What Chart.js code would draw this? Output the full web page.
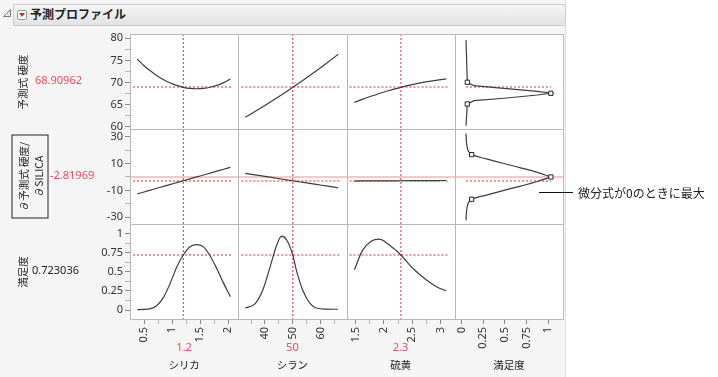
<!DOCTYPE html>
<html lang="ja">
<head>
<meta charset="utf-8">
<title>予測プロファイル</title>
<script src="https://cdn.jsdelivr.net/npm/chart.js@4.4.1/dist/chart.umd.min.js"></script>
<style>
  html, body { margin: 0; padding: 0; background: #fff; }
  body { font-family: 'Noto Sans', 'Noto Sans CJK JP', sans-serif; color: #222; }
  #wrap { position: relative; width: 718px; height: 377px; overflow: hidden; }
  #panel { position: absolute; left: 0; top: 0; width: 565px; height: 377px; background: #f5f5f5; border-right: 1px solid #e0e0e0; }
  #bar { position: absolute; left: 13px; top: 4px; width: 551px; height: 20px; border: 1px solid #cccccc; background: linear-gradient(#f5f5f5, #e3e3e3); }
  #bar .title { position: absolute; left: 16px; top: 0; line-height: 20px; font: bold 12px 'Noto Sans CJK JP', sans-serif; }
  #bar .menu { position: absolute; left: 3px; top: 5px; width: 8px; height: 8px; border: 1px solid #9a9a9a; border-radius: 2px; background: #fff; }
  #bar .menu::after { content: ''; position: absolute; left: 1px; top: 2px; border-left: 3px solid transparent; border-right: 3px solid transparent; border-top: 4px solid #d8232a; }
  #disclose { position: absolute; left: 2px; top: 8px; }
  canvas { position: absolute; left: 0; top: 0; }
  .vlab { position: absolute; transform: translate(-50%, -50%) rotate(-90deg); white-space: nowrap; font: 10.5px 'Noto Sans CJK JP', sans-serif; }
  .val { position: absolute; font: 11px 'Noto Sans', sans-serif; line-height: 14px; }
  .red { color: #ea4c60; }
  #dbox { position: absolute; left: -12px; top: 158px; width: 84px; height: 37px; box-sizing: border-box; border: 1px solid #222;
          transform: rotate(-90deg); display: flex; flex-direction: column; justify-content: center; align-items: center;
          font: 10.5px 'Noto Sans CJK JP', sans-serif; line-height: 15px; }
  #note-line { position: absolute; left: 539px; top: 192px; width: 34px; height: 1px; background: #111; }
  #note { position: absolute; left: 578px; top: 184px; font: 12px 'Noto Sans CJK JP', sans-serif; line-height: 17px; white-space: nowrap; }
</style>
</head>
<body>
<div id="wrap">
  <div id="panel"></div>
  <svg id="disclose" width="10" height="10"><polygon points="8.5,1.5 8.5,8.5 1.5,8.5" fill="#e6e6e6" stroke="#7a7a7a" stroke-width="1"/></svg>
  <div id="bar"><div class="menu"></div><div class="title">予測プロファイル</div></div>
  <canvas id="profiler" width="718" height="377"></canvas>

  <div class="vlab" style="left:22px;top:82px">予測式 硬度</div>
  <div class="val red" style="left:35px;top:73px">68.90962</div>
  <div id="dbox"><div>∂予測式 硬度/</div><div>∂SILICA</div></div>
  <div class="val red" style="left:50px;top:168px">-2.81969</div>
  <div class="vlab" style="left:22px;top:272px">満足度</div>
  <div class="val" style="left:32px;top:263px">0.723036</div>

  <div id="note-line"></div>
  <div id="note">微分式が0のときに最大</div>
</div>

<script>
// current settings of the factors and the predicted responses
const factorNames = ['シリカ', 'シラン', '硫黄', '満足度'];
const factorNow = [1.2, 50, 2.3];
const factorNowText = ['1.2', '50', '2.3'];
const responseNow = [68.90962, -2.81969, 0.723036];

// シリカ column
const silica = [0.38, 0.5, 0.6, 0.73, 0.85, 0.96, 1.08, 1.2, 1.32, 1.44, 1.56, 1.68, 1.8, 1.92, 2.04];
const hardBySilica = [75.3, 73.8, 72.75, 71.55, 70.63, 69.93, 69.34, 68.91, 68.66, 68.58, 68.67, 68.93, 69.36, 69.97, 70.8];
const derivBySilica = [-12.6, -11.15, -9.96, -8.41, -6.99, -5.68, -4.25, -2.82, -1.39, 0.04, 1.46, 2.89, 4.32, 5.75, 7.18];
const desirBySilica = [0.005, 0.008, 0.014, 0.06, 0.17, 0.34, 0.56, 0.723, 0.83, 0.86, 0.83, 0.71, 0.54, 0.35, 0.175];

// シラン column
const silane = [32.9, 36.4, 39.4, 41.8, 44.2, 46.0, 47.8, 50, 51.3, 53.7, 56.1, 58.5, 62, 66.3];
const hardBySilane = [62.12, 63.42, 64.57, 65.52, 66.49, 67.23, 67.98, 68.91, 69.47, 70.51, 71.59, 72.68, 74.31, 76.37];
const derivBySilane = [2.69, 1.56, 0.6, -0.18, -0.95, -1.53, -2.11, -2.82, -3.24, -4.01, -4.78, -5.56, -6.68, -8.07];
const desirBySilane = [0.026, 0.08, 0.28, 0.56, 0.85, 0.97, 0.92, 0.723, 0.52, 0.25, 0.09, 0.026, 0.012, 0.01];

// 硫黄 column
const sulfur = [1.48, 1.62, 1.77, 1.92, 2.06, 2.21, 2.3, 2.5, 2.74, 2.92, 3.1];
const hardBySulfur = [65.5, 66.19, 66.88, 67.52, 68.07, 68.61, 68.91, 69.52, 70.13, 70.5, 70.8];
const derivBySulfur = [-3.02, -2.98, -2.95, -2.91, -2.88, -2.84, -2.82, -2.77, -2.71, -2.67, -2.62];
const desirBySulfur = [0.53, 0.78, 0.9, 0.93, 0.875, 0.785, 0.723, 0.555, 0.4, 0.31, 0.25];

// desirability functions (x = desirability, y = response)
const hardDesir = [0.05, 0.065, 0.142, 0.488, 0.873, 1.03, 0.873, 0.488, 0.142, 0.065, 0.05];
const hardLevels = [79.6, 70.05, 69.27, 68.69, 68.01, 67.56, 67.17, 66.43, 65.88, 65.14, 60.2];
const derivDesir = [0.05, 0.053, 0.058, 0.075, 0.115, 0.296, 0.488, 0.681, 0.873, 1.03, 0.873, 0.681, 0.488, 0.296, 0.115, 0.075, 0.058, 0.053, 0.05];
const derivLevels = [32.3, 28, 24.6, 19.5, 16.6, 13.3, 10.0, 6.8, 3.4, 0, -3.4, -6.8, -10.0, -13.3, -16.6, -19.5, -24.6, -28, -32.3];
const hardHandleDesir = [0.065, 1.03, 0.065];
const hardHandleLevels = [70.05, 67.56, 65.14];
const derivHandleDesir = [0.115, 1.03, 0.115];
const derivHandleLevels = [16.6, 0, -16.6];

// ticks and labels
const silicaTicks = [0.5, 0.75, 1, 1.25, 1.5, 1.75, 2];
const silicaLabels = [0.5, 1, 1.5, 2];
const silaneTicks = [35, 40, 45, 50, 55, 60, 65];
const silaneLabels = [40, 50, 60];
const sulfurTicks = [1.5, 1.75, 2, 2.25, 2.5, 2.75, 3];
const sulfurLabels = [1.5, 2, 2.5, 3];
const desirTicks = [0, 0.25, 0.5, 0.75, 1];
const desirLabels = [0, 0.25, 0.5, 0.75, 1];
const hardTicks = [60, 62.5, 65, 67.5, 70, 72.5, 75, 77.5, 80];
const hardLabels = [60, 65, 70, 75, 80];
const derivTicks = [-30, -20, -10, 0, 10, 20, 30];
const derivLabels = [-30, -10, 10, 30];
const satTicks = [0, 0.125, 0.25, 0.375, 0.5, 0.625, 0.75, 0.875, 1];
const satLabels = [0, 0.25, 0.5, 0.75, 1];

const NUM_FONT = "'Noto Sans', 'Noto Sans CJK JP', sans-serif";
const JP_FONT = "'Noto Sans CJK JP', 'Noto Sans', sans-serif";
const RED_LINE = '#e8283c';
const PINK_LINE = '#f38d98';
const RED_TEXT = '#ea4c60';
const xIds = ['xSilica', 'xSilane', 'xSulfur', 'xDesir'];
const yIds = ['yHard', 'yDeriv', 'yDesir'];

function pts(xs, ys) {
    return xs.map((x, i) => ({x: x, y: ys[i]}));
}

function axis(pos, ticks, labels, min, max, weight) {
    const horizontal = pos === 'bottom';
    return {
        type: 'linear',
        position: pos,
        stack: horizontal ? 'cols' : 'rows',
        stackWeight: 1,
        weight: weight || 0,
        min: min,
        max: max,
        afterBuildTicks: s => { s.ticks = ticks.map(v => ({value: v})); },
        afterFit: s => { if (horizontal) s.height = 30; else s.width = 30; },
        border: {display: false},
        grid: {
            drawOnChartArea: false,
            tickLength: 5,
            tickColor: c => (c.tick && labels.includes(c.tick.value)) ? '#8a8a8a' : '#b4b4b4'
        },
        ticks: {
            autoSkip: false,
            padding: horizontal ? 3 : 2,
            color: '#333',
            font: {family: NUM_FONT, size: 11},
            minRotation: horizontal ? 90 : 0,
            maxRotation: horizontal ? 90 : 0,
            callback: v => labels.includes(v) ? String(v) : ''
        }
    };
}

function segment(ctx, x1, y1, x2, y2) {
    ctx.beginPath();
    ctx.moveTo(x1, y1);
    ctx.lineTo(x2, y2);
    ctx.stroke();
}

// red crosshairs, cell frames and the factor captions
const profilerPlugin = {
    id: 'profiler',
    beforeDraw(chart) {
        const c = chart.ctx, area = chart.chartArea;
        c.save();
        c.fillStyle = '#ffffff';
        c.fillRect(area.left, area.top, area.width, area.height);
        c.restore();
    },
    beforeDatasetsDraw(chart) {
        const c = chart.ctx;
        const xs = xIds.map(id => chart.scales[id]);
        const ys = yIds.map(id => chart.scales[id]);

        c.save();
        c.lineWidth = 1;
        c.strokeStyle = PINK_LINE;
        const zero = Math.round(ys[1].getPixelForValue(0));
        segment(c, xs[0].left, zero, xs[3].right, zero);

        c.strokeStyle = RED_LINE;
        c.setLineDash([2, 2]);
        factorNow.forEach((v, i) => {
            const px = xs[i].getPixelForValue(v);
            segment(c, px, ys[0].top, px, ys[2].bottom);
        });
        const desirSpan = [[Math.min(...hardDesir), Math.max(...hardDesir)], [Math.min(...derivDesir), Math.max(...derivDesir)]];
        responseNow.forEach((v, r) => {
            const py = Math.round(ys[r].getPixelForValue(v));
            for (let k = 0; k < 3; k++) segment(c, xs[k].left + 3, py, xs[k].right - 6, py);
            if (r < 2) segment(c, xs[3].getPixelForValue(desirSpan[r][0]), py, xs[3].getPixelForValue(desirSpan[r][1]), py);
        });
        c.restore();
    },
    afterDatasetsDraw(chart) {
        const c = chart.ctx;
        const xs = xIds.map(id => chart.scales[id]);
        const ys = yIds.map(id => chart.scales[id]);
        c.save();
        c.strokeStyle = '#b9b9b9';
        c.lineWidth = 1;
        xs.forEach(x => ys.forEach(y => {
            c.strokeRect(Math.round(x.left) + 0.5, Math.round(y.top) + 0.5,
                Math.round(x.right) - Math.round(x.left), Math.round(y.bottom) - Math.round(y.top));
        }));
        c.textAlign = 'center';
        c.textBaseline = 'middle';
        xs.forEach((x, i) => {
            const cx = (x.left + x.right) / 2;
            if (i < 3) {
                c.fillStyle = RED_TEXT;
                c.font = '11px ' + NUM_FONT;
                c.fillText(factorNowText[i], cx, x.top + 29);
            }
            c.fillStyle = '#222222';
            c.font = '10.5px ' + JP_FONT;
            c.fillText(factorNames[i], cx, x.top + 46);
        });
        c.restore();
    }
};

const curve = {showLine: true, borderColor: '#3d3d3d', borderWidth: 1.2, pointRadius: 0, cubicInterpolationMode: 'monotone'};
const handle = {showLine: false, pointStyle: 'rect', pointRadius: 3, backgroundColor: '#ffffff', borderColor: '#222222', borderWidth: 1};
const peak = derivDesir.indexOf(Math.max(...derivDesir));

new Chart(document.getElementById('profiler'), {
    type: 'scatter',
    data: {
        datasets: [
            {...handle, xAxisID: 'xDesir', yAxisID: 'yHard', data: pts(hardHandleDesir, hardHandleLevels)},
            {...handle, xAxisID: 'xDesir', yAxisID: 'yDeriv', data: pts(derivHandleDesir, derivHandleLevels)},
            {...curve, xAxisID: 'xSilica', yAxisID: 'yHard', data: pts(silica, hardBySilica)},
            {...curve, xAxisID: 'xSilica', yAxisID: 'yDeriv', data: pts(silica, derivBySilica)},
            {...curve, xAxisID: 'xSilica', yAxisID: 'yDesir', data: pts(silica, desirBySilica)},
            {...curve, xAxisID: 'xSilane', yAxisID: 'yHard', data: pts(silane, hardBySilane)},
            {...curve, xAxisID: 'xSilane', yAxisID: 'yDeriv', data: pts(silane, derivBySilane)},
            {...curve, xAxisID: 'xSilane', yAxisID: 'yDesir', data: pts(silane, desirBySilane)},
            {...curve, xAxisID: 'xSulfur', yAxisID: 'yHard', data: pts(sulfur, hardBySulfur)},
            {...curve, xAxisID: 'xSulfur', yAxisID: 'yDeriv', data: pts(sulfur, derivBySulfur)},
            {...curve, xAxisID: 'xSulfur', yAxisID: 'yDesir', data: pts(sulfur, desirBySulfur)},
            {...curve, cubicInterpolationMode: 'default', tension: 0, xAxisID: 'xDesir', yAxisID: 'yHard', data: pts(hardDesir, hardLevels)},
            {...curve, cubicInterpolationMode: 'default', tension: 0.4, xAxisID: 'xDesir', yAxisID: 'yDeriv',
                data: pts(derivDesir.slice(0, peak + 1), derivLevels.slice(0, peak + 1))},
            {...curve, cubicInterpolationMode: 'default', tension: 0.4, xAxisID: 'xDesir', yAxisID: 'yDeriv',
                data: pts(derivDesir.slice(peak), derivLevels.slice(peak))}
        ]
    },
    options: {
        responsive: false,
        animation: false,
        events: [],
        layout: {padding: {left: 100, top: 34, right: 155, bottom: 28}},
        plugins: {legend: {display: false}, tooltip: {enabled: false}},
        scales: {
            xSilica: axis('bottom', silicaTicks, silicaLabels, 0.25, 2.18),
            xSilane: axis('bottom', silaneTicks, silaneLabels, 30.4, 69.3),
            xSulfur: axis('bottom', sulfurTicks, sulfurLabels, 1.34, 3.25),
            xDesir: axis('bottom', desirTicks, desirLabels, -0.08, 1.17),
            yHard: axis('left', hardTicks, hardLabels, 59.48, 80.97, 3),
            yDeriv: axis('left', derivTicks, derivLabels, -35.0, 35.7, 2),
            yDesir: axis('left', satTicks, satLabels, -0.118, 1.13, 1)
        }
    },
    plugins: [profilerPlugin]
});
</script>
</body>
</html>
